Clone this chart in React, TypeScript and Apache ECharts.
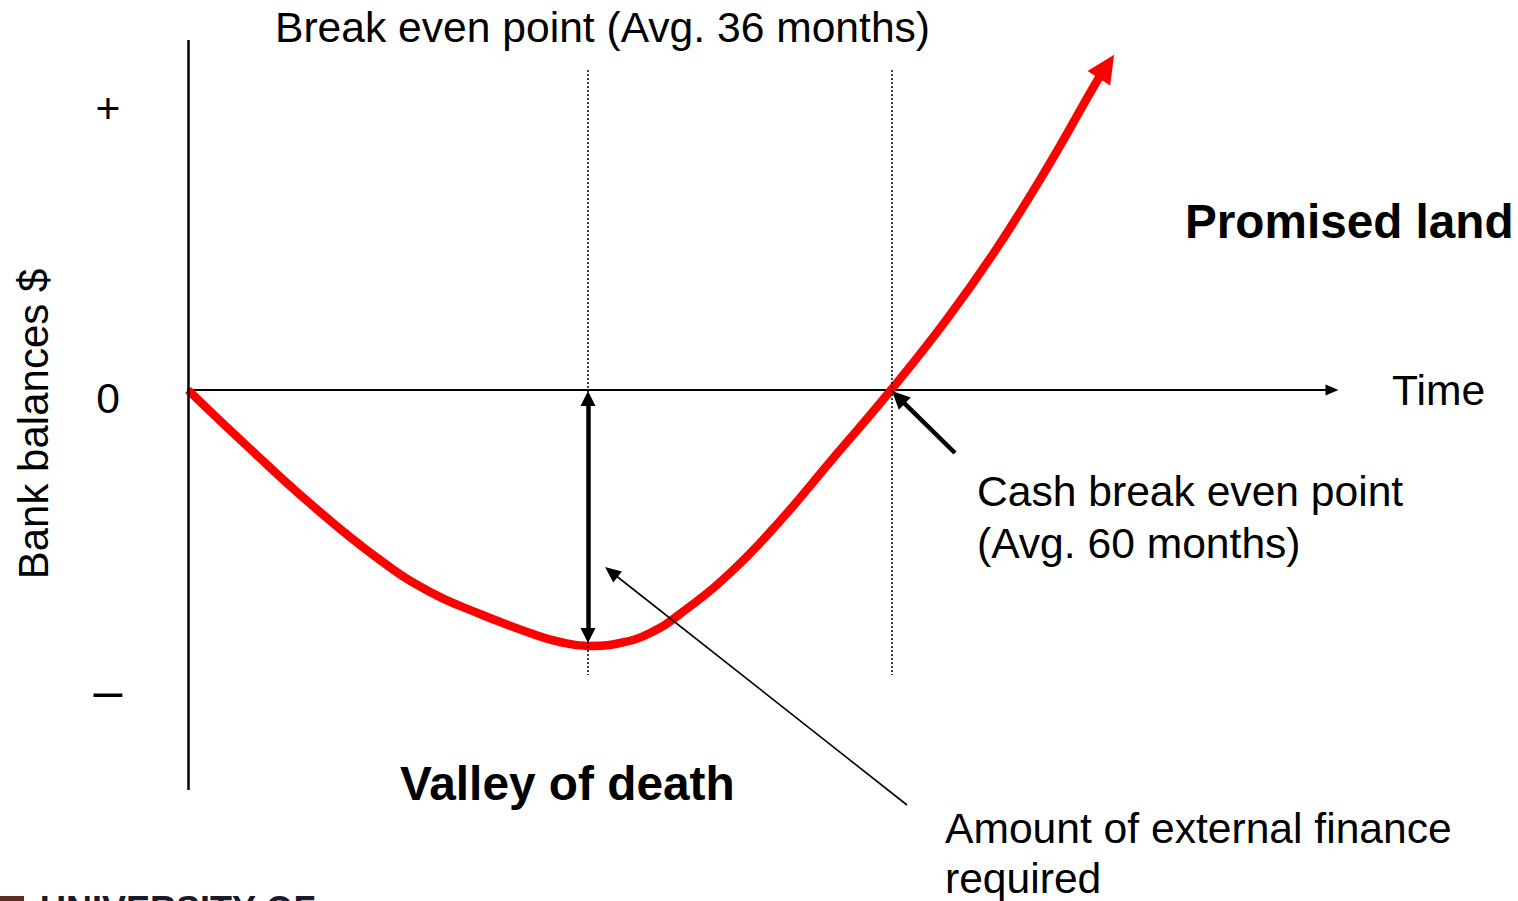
import React, { useEffect, useRef } from "react";
import * as echarts from "echarts";

// Conceptual time units (1 unit = 10 px of the original drawing) and bank balance units
const curveTime = [0, 5.9, 12.5, 19.2, 24.2, 29.2, 34.2, 37.2, 40.0, 43.2, 46.2, 49.2, 54.2, 59.2, 64.2, 70.3, 75.9, 80.9, 85.9, 90.9, 91.85];
const curveBalance = [0, -5.6, -11.6, -17.0, -20.2, -22.4, -24.3, -25.2, -25.6, -25.3, -24.3, -22.4, -18.3, -13.1, -7.2, 0, 7.1, 14.2, 22.2, 30.9, 32.35];

const yTickValues = [28.2, -0.8, -30.0];
const yTickLabels = ["+", "0", "–"];

const breakEvenTime = 40; // Break even point (Avg. 36 months)
const cashBreakEvenTime = 70.4; // Cash break even point (Avg. 60 months)
const valleyBottom = -25.6;
const axisTop = 35;
const axisBottom = -40;

const FONT = "'Liberation Sans', Arial, Helvetica, sans-serif";

export default function App() {
  const ref = useRef<HTMLDivElement>(null);

  useEffect(() => {
    if (!ref.current) return;
    const chart = echarts.init(ref.current, null, { renderer: "svg" });

    const curveData: any[] = curveTime.map((t, i) => {
      const v = [t, curveBalance[i]];
      if (i === curveTime.length - 1) {
        return { value: v, symbol: "triangle", symbolSize: [27, 28], symbolRotate: -33 };
      }
      return { value: v, symbol: "none" };
    });

    const txt = (text: string, x: number, y: number, size: number, bold = false, extra: any = {}) => ({
      type: "text",
      x,
      y,
      silent: true,
      ...extra,
      style: {
        text,
        fill: "#000",
        fontSize: size,
        fontWeight: bold ? "bold" : "normal",
        fontFamily: FONT,
        textAlign: extra.align || "left",
        textVerticalAlign: "middle",
        align: extra.align || "left",
        verticalAlign: "middle",
      },
    });

    const arrowSeries = (name: string, symbol: string[], size: number[], width: number, dataPairs: any[], dash: any = "solid") => ({
      name,
      type: "line",
      data: [],
      clip: false,
      silent: true,
      z: 4,
      markLine: {
        silent: true,
        symbol,
        symbolSize: size,
        label: { show: false },
        lineStyle: { color: "#000", width, type: dash },
        emphasis: { disabled: true },
        data: dataPairs,
      },
    });

    const option: any = {
      animation: false,
      backgroundColor: "#ffffff",
      grid: { left: 188, top: 40, width: 1144, height: 770, containLabel: false },
      xAxis: {
        type: "value",
        min: 0,
        max: 114.4,
        name: "Time",
        nameLocation: "end",
        nameGap: 60,
        nameTextStyle: { fontSize: 42.6, fontFamily: FONT, color: "#000", padding: [12, 0, 0, 0], verticalAlign: "middle" },
        axisLine: {
          show: true,
          onZero: true,
          symbol: ["none", "triangle"],
          symbolSize: [11, 13],
          lineStyle: { color: "#000", width: 2 },
        },
        axisTick: { show: false },
        axisLabel: { show: false },
        splitLine: { show: false },
      },
      yAxis: {
        type: "value",
        min: -42,
        max: 35,
        axisLine: { show: false },
        axisTick: { show: false },
        splitLine: { show: false },
        axisLabel: {
          show: true,
          customValues: yTickValues,
          margin: 80,
          align: "center",
          fontSize: 42.6,
          fontFamily: FONT,
          color: "#000",
          formatter: (val: number) => {
            const idx = yTickValues.findIndex((v) => Math.abs(v - val) < 0.01);
            if (idx < 0) return "";
            const l = yTickLabels[idx];
            return l === "–" ? "{m|–}" : l;
          },
          rich: { m: { fontSize: 52, fontFamily: FONT, color: "#000" } },
        },
      },
      series: [
        arrowSeries("yaxis", ["none", "none"], [1, 1], 2.5, [[{ coord: [0, axisTop] }, { coord: [0, axisBottom] }]]),
        arrowSeries(
          "markers",
          ["none", "none"],
          [1, 1],
          1.5,
          [
            [{ coord: [breakEvenTime, 32] }, { coord: [breakEvenTime, -28.5] }],
            [{ coord: [cashBreakEvenTime, 32] }, { coord: [cashBreakEvenTime, -28.5] }],
          ],
          [2, 2]
        ),
        arrowSeries("external finance", ["triangle", "triangle"], [15, 15], 4.5, [
          [{ coord: [breakEvenTime, -0.85] }, { coord: [breakEvenTime, valleyBottom + 1.05] }],
        ]),
        arrowSeries("cash pointer", ["none", "triangle"], [17, 18], 4.5, [[{ coord: [76.7, -6.3] }, { coord: [71.04, -0.73] }]]),
        arrowSeries("finance pointer", ["none", "triangle"], [14, 16], 1.6, [[{ coord: [71.9, -41.5] }, { coord: [42.33, -18.2] }]]),
        {
          name: "Bank balances",
          type: "line",
          data: curveData,
          smooth: 0.45,
          clip: false,
          silent: true,
          z: 3,
          symbol: "none",
          showSymbol: true,
          showAllSymbol: true,
          lineStyle: { color: "#ff0000", width: 8.5, cap: "butt" },
          itemStyle: { color: "#ff0000", borderWidth: 0 },
        },
      ],
      graphic: [
        txt("Break even point (Avg. 36 months)", 275, 27, 42.6),
        txt("Promised land", 1185, 221, 47.7, true),
        txt("Cash break even point", 977, 491, 42.6),
        txt("(Avg. 60 months)", 977, 543, 42.6),
        txt("Valley of death", 400, 783, 47.8, true),
        txt("Amount of external finance", 945, 828, 42.6),
        txt("required", 945, 878, 42.6),
        txt("Bank balances $", 33, 424, 42, false, { rotation: Math.PI / 2, align: "center" }),
        {
          type: "rect",
          silent: true,
          shape: { x: 0, y: 896, width: 24, height: 10 },
          style: { fill: "#5a2e22" },
        },
        {
          type: "text",
          x: 40,
          y: 909,
          silent: true,
          style: {
            text: "UNIVERSITY OF",
            fill: "#1a1a2e",
            fontSize: 36,
            fontWeight: "bold",
            fontFamily: FONT,
            textAlign: "left",
            textVerticalAlign: "middle",
            align: "left",
            verticalAlign: "middle",
          },
        },
      ],
    };

    chart.setOption(option);
    return () => chart.dispose();
  }, []);

  return (
    <div
      ref={ref}
      style={{ position: "fixed", left: 0, top: 0, width: 1518, height: 901, background: "#fff" }}
    />
  );
}
